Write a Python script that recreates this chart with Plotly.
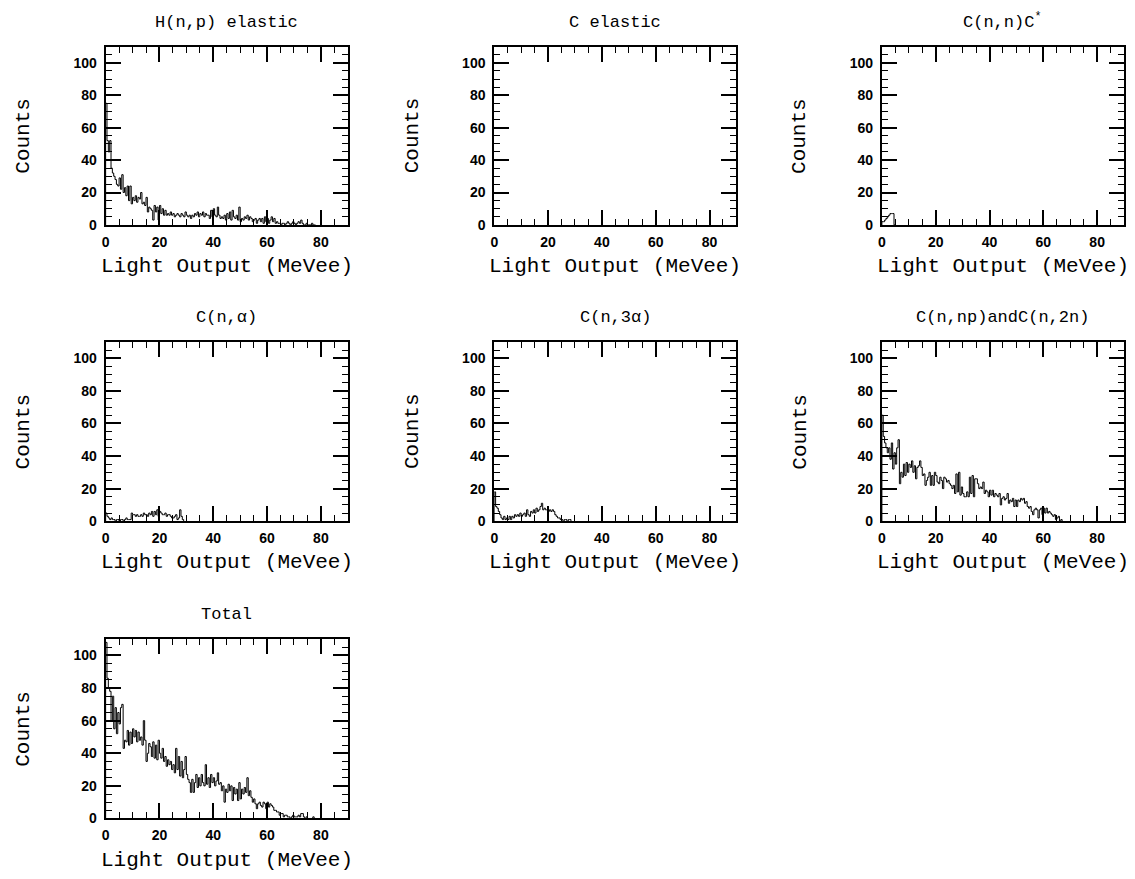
import numpy as np
import plotly.graph_objects as go

# Light-output spectra, counts per 0.5 MeVee channel starting at 0 MeVee
bin_width = 0.5

h_np_elastic = [
    75, 52, 45, 52, 35, 32, 30, 28, 25, 24, 29, 22, 31, 20, 23, 18, 24, 15, 24, 13,
    17, 15, 18, 14, 17, 16, 20, 13, 14, 12, 17, 8, 11, 10, 9, 3, 12, 8, 11, 3,
    12, 7, 10, 6, 9, 6, 7, 6, 8, 6, 7, 5, 6, 7, 6, 5, 7, 6, 5, 8,
    6, 5, 6, 4, 6, 5, 7, 6, 8, 5, 7, 6, 8, 5, 7, 6, 6, 4, 9, 5,
    10, 6, 5, 11, 6, 4, 5, 4, 6, 3, 7, 4, 8, 3, 9, 5, 4, 6, 3, 11,
    2, 4, 3, 5, 4, 6, 3, 5, 4, 2, 3, 4, 1, 3, 4, 2, 4, 1, 5, 2,
    4, 1, 3, 5, 2, 4, 1, 2, 1, 1, 0, 1, 1, 0, 1, 2, 1, 0, 1, 2,
    1, 0, 1, 2, 1, 3, 1, 0, 0, 1, 0, 0, 0, 1, 0, 0,
]

c_elastic = []

c_nn_cstar = [2, 2, 3, 4, 5, 6, 7, 7, 7, 0]

c_n_alpha = [
    5, 3, 2, 1, 2, 1, 1, 0, 1, 1, 0, 1, 1, 0, 1, 2, 1, 1, 1, 5,
    4, 4, 3, 4, 3, 3, 4, 3, 5, 4, 4, 3, 5, 4, 6, 3, 6, 4, 7, 3,
    6, 5, 4, 4, 5, 3, 4, 4, 3, 2, 2, 3, 4, 1, 2, 7, 3, 1,
]

c_n_3alpha = [
    18, 9, 8, 6, 4, 2, 1, 3, 1, 2, 1, 3, 1, 3, 2, 4, 3, 4, 3, 5,
    3, 4, 5, 3, 7, 4, 3, 6, 5, 7, 5, 8, 6, 7, 9, 11, 7, 8, 7, 7,
    6, 7, 6, 7, 6, 4, 3, 2, 2, 1, 1, 0, 1, 1, 0, 1, 1,
]

c_np_and_2n = [
    65, 52, 48, 45, 42, 45, 38, 48, 32, 42, 35, 45, 50, 23, 30, 27, 35, 28, 36, 30,
    35, 33, 37, 30, 34, 26, 33, 34, 37, 33, 28, 29, 22, 25, 27, 30, 22, 28, 22, 30,
    28, 24, 23, 27, 25, 20, 27, 26, 24, 25, 23, 22, 20, 22, 17, 29, 18, 30, 16, 21,
    17, 15, 15, 18, 15, 27, 17, 28, 15, 26, 26, 23, 20, 21, 20, 24, 17, 19, 18, 15,
    19, 16, 19, 15, 17, 16, 15, 17, 10, 14, 15, 13, 14, 17, 11, 13, 12, 14, 9, 13,
    9, 13, 12, 14, 13, 14, 11, 12, 9, 8, 9, 6, 4, 7, 8, 7, 2, 7, 8, 4,
    8, 5, 8, 5, 6, 5, 4, 3, 4, 1, 2, 3, 0, 1,
]

total = [
    108, 86, 80, 78, 60, 75, 55, 68, 52, 65, 58, 68, 70, 43, 48, 47, 54, 45, 53, 46,
    55, 50, 54, 47, 53, 48, 50, 45, 60, 48, 35, 40, 46, 44, 38, 47, 37, 45, 36, 48,
    40, 37, 43, 35, 38, 32, 36, 33, 35, 30, 33, 28, 43, 30, 38, 26, 35, 25, 30, 38,
    27, 24, 22, 16, 24, 16, 22, 27, 19, 25, 20, 27, 22, 20, 33, 21, 25, 19, 27, 22,
    25, 20, 23, 28, 21, 22, 17, 20, 10, 18, 16, 21, 17, 20, 11, 19, 15, 18, 11, 22,
    12, 18, 15, 19, 16, 25, 14, 17, 13, 10, 12, 9, 6, 9, 10, 8, 7, 10, 9, 6,
    10, 7, 9, 8, 7, 5, 5, 4, 4, 2, 3, 3, 1, 2, 2, 1, 1, 0, 1, 2,
    1, 1, 1, 2, 1, 3, 3, 1, 0, 1, 0, 0, 0, 0, 1, 0,
]

panel_titles = [
    "H(n,p) elastic", "C elastic", "C(n,n)C<sup>*</sup>",
    "C(n,α)", "C(n,3α)", "C(n,np)andC(n,2n)",
    "Total",
]
panel_data = [h_np_elastic, c_elastic, c_nn_cstar,
              c_n_alpha, c_n_3alpha, c_np_and_2n, total]

x_title = "Light Output (MeVee)"
y_title = "Counts"
x_range = [0, 90]
y_range = [0, 110]
major_step = 20
minor_step = 5

# ---- page geometry (pixels) ----
W, H = 1135, 879
col_px = [(102, 345), (492, 735), (881, 1124)]
row_px = [(47, 227), (345, 526), (645, 826)]

label_font = dict(family="Liberation Mono", size=21, color="black")
title_font = dict(family="Liberation Mono", size=17, color="black")
tick_font = dict(family="Liberation Sans", size=14, color="black", weight="bold")
n_panels = len(panel_titles)


def px_x(p):
    return p / W


def px_y(p):
    return 1 - p / H


def step_outline(values):
    """Histogram outline: rise from zero, one flat step per channel, drop to zero."""
    n = len(values)
    edges = np.arange(n + 1) * bin_width
    xs = np.concatenate([[0.0], edges])
    ys = np.concatenate([[0.0], np.asarray(values, dtype=float), [0.0]])
    return xs, ys


fig = go.Figure()
annotations = []

for i, (title, values) in enumerate(zip(panel_titles, panel_data)):
    r, c = divmod(i, 3)
    x0, x1 = col_px[c]
    y0, y1 = row_px[r]
    sfx = "" if i == 0 else str(i + 1)
    # companion axes carrying the short (minor) ticks
    msfx = str(n_panels + i + 1)

    xs, ys = step_outline(values)
    fig.add_trace(go.Scatter(
        x=xs, y=ys, mode="lines", line_shape="hv",
        line=dict(color="black", width=1),
        xaxis="x" + sfx, yaxis="y" + sfx, showlegend=False,
        hoverinfo="skip",
    ))
    fig.add_trace(go.Scatter(
        x=[], y=[], mode="lines", xaxis="x" + msfx, yaxis="y" + msfx,
        showlegend=False, hoverinfo="skip",
    ))

    major = dict(
        showline=True, linecolor="black", linewidth=2, mirror="ticks",
        tickmode="linear", tick0=0, dtick=major_step,
        ticks="inside", ticklen=15, tickwidth=1.5, tickcolor="black",
        showgrid=False, zeroline=False, tickfont=tick_font,
    )
    minor = dict(
        showline=False, mirror="ticks", tickmode="linear", tick0=0,
        dtick=minor_step, ticks="inside", ticklen=6, tickwidth=1,
        tickcolor="black", showticklabels=False, showgrid=False,
        zeroline=False,
    )
    fig.layout["xaxis" + sfx] = dict(
        domain=[px_x(x0), px_x(x1)], anchor="y" + sfx,
        range=x_range, ticklabelstandoff=3, **major,
    )
    fig.layout["yaxis" + sfx] = dict(
        domain=[px_y(y1), px_y(y0)], anchor="x" + sfx,
        range=y_range, ticklabelstandoff=4, **major,
    )
    fig.layout["xaxis" + msfx] = dict(
        overlaying="x" + sfx, anchor="y" + sfx, range=x_range, **minor,
    )
    fig.layout["yaxis" + msfx] = dict(
        overlaying="y" + sfx, anchor="x" + sfx, range=y_range, **minor,
    )

    cx = (x0 + x1) / 2
    annotations.append(dict(
        text=title, x=px_x(cx), y=px_y(y0 - 13), xref="paper", yref="paper",
        xanchor="center", yanchor="bottom", showarrow=False, font=title_font,
    ))
    annotations.append(dict(
        text=x_title, x=px_x(cx), y=px_y(y1 + 42), xref="paper", yref="paper",
        xanchor="center", yanchor="middle", showarrow=False, font=label_font,
    ))
    annotations.append(dict(
        text=y_title, x=px_x(x0 - 82), y=px_y((y0 + y1) / 2),
        xref="paper", yref="paper", xanchor="center", yanchor="middle",
        textangle=-90, showarrow=False, font=label_font,
    ))

fig.update_layout(
    width=W, height=H, margin=dict(l=0, r=0, t=0, b=0),
    paper_bgcolor="white", plot_bgcolor="white",
    annotations=annotations, showlegend=False,
)

fig.write_html("out.html")
